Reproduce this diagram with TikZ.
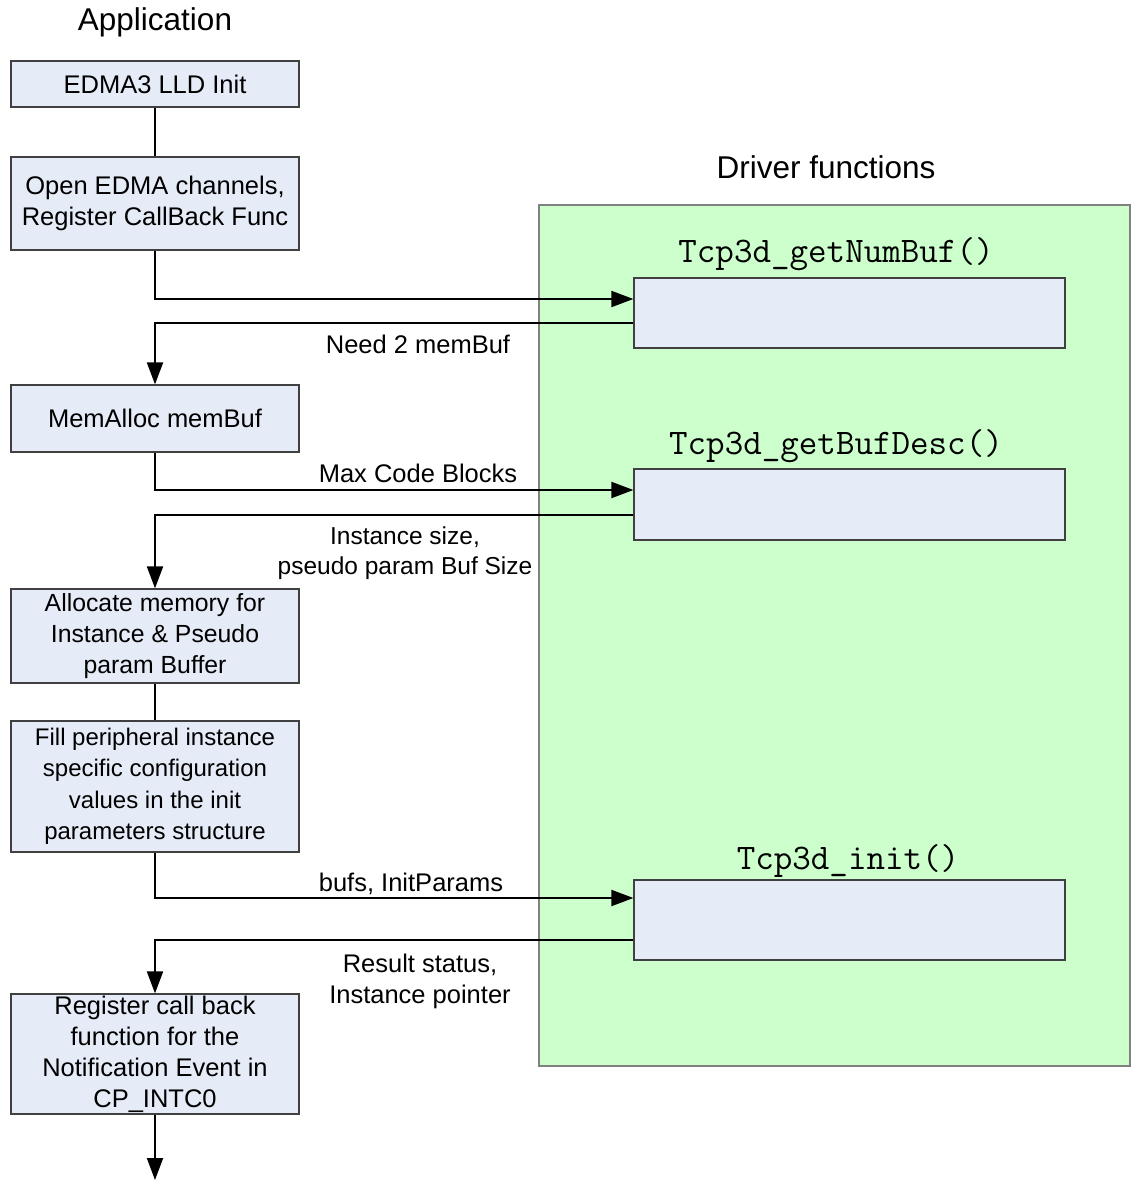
\documentclass[tikz,border=0pt]{standalone}
\usepackage{fontspec}
\setmainfont{Liberation Sans}
\usepackage{tikz}
\usetikzlibrary{arrows.meta, positioning, calc}
\definecolor{boxblue}{HTML}{E6ECF7}
\definecolor{drvgreen}{HTML}{CCFFCC}
\definecolor{edge}{HTML}{404040}
\tikzset{
  every picture/.style={font=\fontsize{25.5}{31}\selectfont},
  app/.style={draw=edge, fill=boxblue, line width=1.2pt, minimum width=288pt,
              align=center, inner sep=0pt},
  func/.style={draw=edge, fill=boxblue, line width=1.2pt, minimum width=431pt, inner sep=0pt},
  panel/.style={draw=gray, fill=drvgreen, line width=1.2pt, inner sep=0pt},
  heading/.style={font=\fontsize{31.5}{36}\selectfont, inner sep=0pt},
  fname/.style={font=\ttfamily\fontsize{36}{40}\selectfont, inner sep=0pt, anchor=base},
  msg/.style={align=center, inner sep=0pt},
  flow/.style={-{Triangle[length=22pt,width=16pt]}, line width=2pt},
  link/.style={line width=2pt},
}
\begin{document}
\begin{tikzpicture}[x=1pt, y=-1pt]
  \useasboundingbox (0,0) rectangle (1132,1184);
  % driver side
  \node[panel, minimum width=591pt, minimum height=861pt] (drv) at (834.5,635.5) {};
  \node[heading] (drvtitle) at (826,167) {Driver functions};
  \foreach \nm/\cy/\h/\lx/\ly/\txt in {getnumbuf/313/70/836/262/getNumBuf,
      getbufdesc/504.5/71/836/454/getBufDesc, tcpinit/920/80/848/869/init} {
    \node[func, minimum height=\h pt] (\nm) at (849.5,\cy) {};
    \node[fname] (\nm-name) at (\lx,\ly) {Tcp3d\_\txt()};
  }
  % application side
  \node[heading] (apptitle) at (155,22) {Application};
  \node[app, minimum height=46pt] (lldinit) at (155,84) {EDMA3 LLD Init};
  \node[app, minimum height=93pt] (opench) at (155,203.5) {Open EDMA channels,\\Register CallBack Func};
  \node[app, minimum height=67pt] (memalloc) at (155,418.5) {MemAlloc memBuf};
  \node[app, minimum height=94pt, font=\fontsize{24.8}{31}\selectfont] (allocmem) at (155,636) {Allocate memory for\\Instance \& Pseudo\\param Buffer};
  \node[app, minimum height=131pt, font=\fontsize{24}{31.5}\selectfont] (fillprm) at (155,786.5) {Fill peripheral instance\\specific configuration\\values in the init\\parameters structure};
  \node[app, minimum height=120pt] (regcb) at (155,1054) {Register call back\\function for the\\Notification Event in\\CP\_INTC0};
  \coordinate (exit) at (155,1180);
  % connectors
  \draw[link] (lldinit) -- (opench);
  \draw[link] (allocmem) -- (fillprm);
  \draw[flow] (opench.south) |- ([yshift=14pt]getnumbuf.west);
  \draw[flow] ([yshift=-10pt]getnumbuf.west) -| (memalloc.north);
  \draw[flow] (memalloc.south) |- ([yshift=14.5pt]getbufdesc.west);
  \draw[flow] ([yshift=-10.5pt]getbufdesc.west) -| (allocmem.north);
  \draw[flow] (fillprm.south) |- ([yshift=22pt]tcpinit.west);
  \draw[flow] ([yshift=-20pt]tcpinit.west) -| (regcb.north);
  \draw[flow] (regcb) -- (exit);
  % labels
  \node[msg] (needbuf) at (418,344) {Need 2 memBuf};
  \node[msg] (maxcb) at (418,473) {Max Code Blocks};
  \node[msg, font=\fontsize{24.5}{30}\selectfont] (instsize) at (405,553) {Instance size,\\pseudo param Buf Size};
  \node[msg] (bufsprm) at (411,884) {bufs, InitParams};
  \node[msg] (result) at (420,981) {Result status,\\Instance pointer};
\end{tikzpicture}
\end{document}
